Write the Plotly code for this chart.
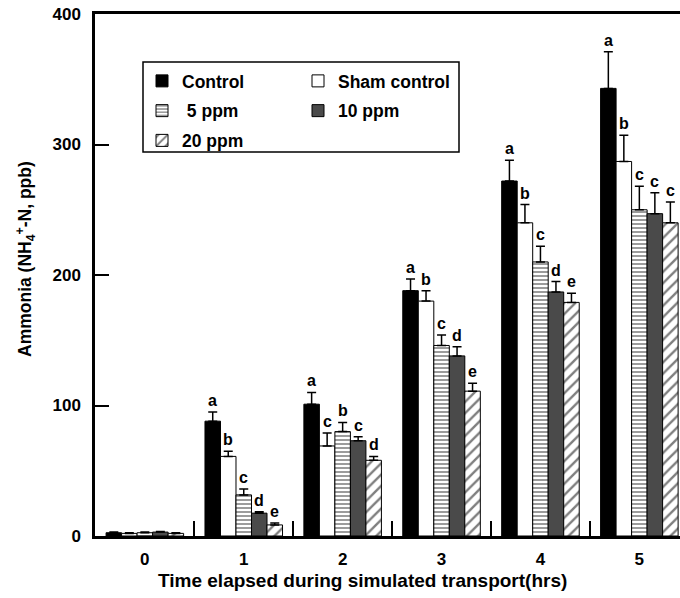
import plotly.graph_objects as go

times = [0, 1, 2, 3, 4, 5]
time_labels = ["0", "1", "2", "3", "4", "5"]

series_names = ["Control", "Sham control", " 5 ppm", "10 ppm", "20 ppm"]

control = [2.5, 88, 101, 188, 272, 343]
control_err = [0.5, 7, 9, 9, 16, 28]
sham = [2, 61, 69, 180, 240, 287]
sham_err = [0.5, 4, 10, 8, 14, 20]
ppm5 = [2.5, 31.5, 80, 146, 210, 250]
ppm5_err = [0.5, 4.5, 7, 8, 12, 18]
ppm10 = [3, 17.5, 73, 138, 187, 247]
ppm10_err = [0.5, 1, 3, 7, 8, 16]
ppm20 = [2, 8.5, 58, 111, 179, 240]
ppm20_err = [0.5, 1.5, 3, 6, 7, 16]

control_letters = ["", "a", "a", "a", "a", "a"]
sham_letters = ["", "b", "c", "b", "b", "b"]
ppm5_letters = ["", "c", "b", "c", "c", "c"]
ppm10_letters = ["", "d", "c", "d", "d", "c"]
ppm20_letters = ["", "e", "d", "e", "e", "c"]

values = [control, sham, ppm5, ppm10, ppm20]
errors = [control_err, sham_err, ppm5_err, ppm10_err, ppm20_err]
letters = [control_letters, sham_letters, ppm5_letters, ppm10_letters, ppm20_letters]

styles = [
    dict(color="black"),
    dict(color="white"),
    dict(color="white", pattern=dict(shape="-", fgcolor="#3a3a3a", bgcolor="white", size=4, solidity=0.5)),
    dict(color="#4a4a4a"),
    dict(color="white", pattern=dict(shape="/", fgcolor="black", bgcolor="white", size=8, solidity=0.3)),
]
legend_ids = ["legend", "legend2", "legend", "legend2", "legend"]

W, H = 680, 598
L, R, T, B = 95, 0, 14, 62
pw, ph = W - L - R, H - T - B

def px(xr):
    return (xr - L) / pw

def py(yr):
    return (H - B - yr) / ph

BARGAP = 0.216
fig = go.Figure()
for k in range(5):
    fig.add_trace(go.Bar(
        x=times, y=values[k], name=series_names[k],
        marker=dict(**styles[k], line=dict(color="black", width=1)),
        error_y=dict(type="data", array=errors[k], arrayminus=[0] * 6, symmetric=False,
                     color="black", thickness=1.5, width=4.5),
        legend=legend_ids[k], legendgroup=series_names[k],
    ))

w = (1 - BARGAP) / 5
for k in range(5):
    for i, t in enumerate(times):
        if letters[k][i]:
            fig.add_annotation(
                x=t + (k - 2) * w, y=values[k][i] + errors[k][i], xref="x", yref="y",
                text=letters[k][i], showarrow=False, yanchor="bottom", xanchor="center", yshift=1,
                font=dict(size=16, color="black"),
            )

fig.add_annotation(x=px(25), y=py(259), xref="paper", yref="paper", textangle=-90,
                   xanchor="center", yanchor="middle",
                   text="Ammonia (NH<sub>4</sub><sup>+</sup>-N, ppb)", showarrow=False,
                   font=dict(size=17.5, color="black"))
fig.add_annotation(x=px(362), y=py(580), xref="paper", yref="paper",
                   xanchor="center", yanchor="middle",
                   text="Time elapsed during simulated transport(hrs)", showarrow=False,
                   font=dict(size=19, color="black"))

fig.add_shape(type="rect", xref="paper", yref="paper",
              x0=px(143), x1=px(459), y0=py(152), y1=py(62),
              line=dict(color="black", width=1.5), fillcolor="rgba(0,0,0,0)")

legend_common = dict(bgcolor="rgba(0,0,0,0)", borderwidth=0, font=dict(size=17.5, color="black"),
                     xanchor="left", yanchor="top", traceorder="grouped", tracegroupgap=4)
fig.update_layout(
    width=W, height=H,
    margin=dict(l=L, r=R, t=T, b=B, pad=0),
    paper_bgcolor="white", plot_bgcolor="white",
    font=dict(family="Liberation Sans, Arial, sans-serif", size=16, color="black", weight="bold"),
    barmode="group", bargap=BARGAP, bargroupgap=0,
    legend=dict(x=px(142), y=py(63), **legend_common),
    legend2=dict(x=px(298), y=py(63), **legend_common),
    xaxis=dict(range=[-0.504, 5.411], tickvals=times, ticktext=time_labels, ticks="",
               showline=True, linecolor="black", linewidth=2.5, mirror=True,
               showgrid=False, zeroline=False, ticklabelstandoff=6,
               minor=dict(tickvals=[0.5, 1.5, 2.5, 3.5, 4.5], ticks="inside", ticklen=15,
                          tickwidth=2, tickcolor="black", showgrid=False),
               tickfont=dict(size=17)),
    yaxis=dict(range=[0, 400], tickvals=[0, 100, 200, 300, 400], ticks="inside", ticklen=14,
               tickwidth=2, tickcolor="black", showline=True, linecolor="black", linewidth=2.5,
               showgrid=False, zeroline=False, ticklabelstandoff=8, ticklabeloverflow="allow",
               tickfont=dict(size=17)),
)

fig.write_html("out.html", config={"displayModeBar": False},
               post_script="document.body.style.margin='0px';")
